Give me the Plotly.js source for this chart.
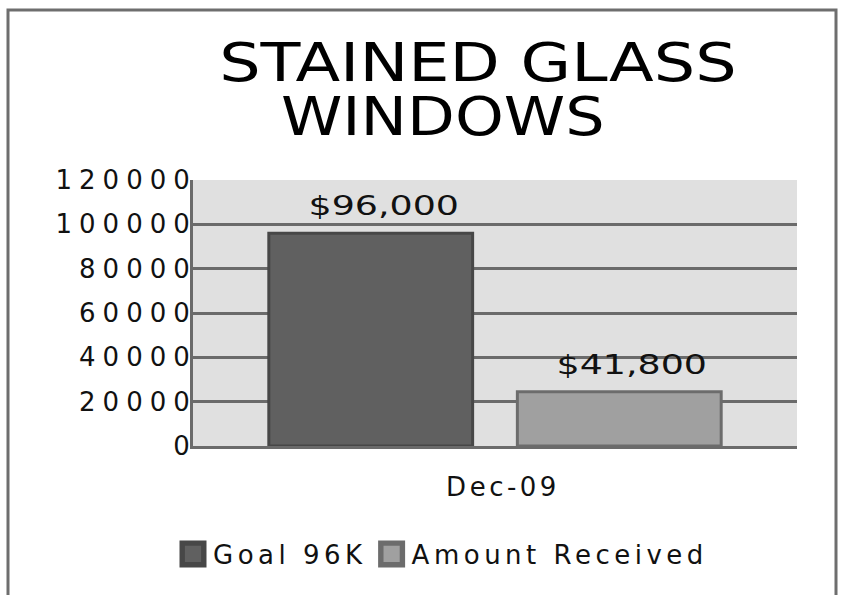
<!DOCTYPE html>
<html>
<head>
<meta charset="utf-8">
<script src="https://cdn.plot.ly/plotly-3.0.1.min.js"></script>
<style>
  html, body { margin: 0; padding: 0; background: #ffffff; }
  #chart { width: 841px; height: 595px; }
  .annotation-text { transform-box: fill-box; transform-origin: center; }
  .annotation[data-index="0"] .annotation-text,
  .annotation[data-index="1"] .annotation-text { transform: scaleX(1.4); }
  .annotation[data-index="2"] .annotation-text { transform: scaleX(1.21); }
  .annotation[data-index="3"] .annotation-text { transform: scaleX(1.15); }
  .yaxislayer-above text { letter-spacing: 7px; }
  .xaxislayer-above text { letter-spacing: 3.5px; }
  .legendtext { letter-spacing: 4.5px; }
  .legendpoints path { transform: translate(20px, 0px) scale(1.8); }
</style>
</head>
<body>
<div id="chart"></div>
<script>
// ---- data ----
const categories = ["Dec-09"];
const seriesNames = ["Goal 96K", "Amount Received"];
const goalValues = [96000];
const receivedValues = [24500];
const barLabels = ["$96,000", "$41,800"];
const yTickValues = [0, 20000, 40000, 60000, 80000, 100000, 120000];
const yTickLabels = ["0", "20000", "40000", "60000", "80000", "100000", "120000"];
const titleLines = ["STAINED GLASS", "WINDOWS"];

// ---- styling / layout constants ----
const W = 841, H = 595;
const M = { l: 193, r: 44, t: 180, b: 149 };
const plotW = W - M.l - M.r;
const plotH = H - M.t - M.b;
const bargap = 0.177;
const bargroupgap = 0.18;
const font = "DejaVu Sans, Verdana, sans-serif";
const gridColor = "#6b6b6b";

const traces = [
  {
    type: "bar", name: seriesNames[0], x: categories, y: goalValues,
    marker: { color: "#606060", line: { color: "#474747", width: 3 } },
    hoverinfo: "skip"
  },
  {
    type: "bar", name: seriesNames[1], x: categories, y: receivedValues,
    marker: { color: "#a0a0a0", line: { color: "#6c6c6c", width: 3 } },
    hoverinfo: "skip"
  }
];

// label annotations sit above each bar of the group
const slot = plotW * (1 - bargap) / 2;
const values = [goalValues[0], receivedValues[0]];
const annotations = values.map((v, i) => ({
  x: categories[0], y: v, xref: "x", yref: "y",
  text: barLabels[i], showarrow: false,
  xshift: (i - 0.5) * slot + 13, yshift: 10,
  yanchor: "bottom", xanchor: "center",
  font: { family: font, size: 26, color: "#111111" }
}));
annotations.push({
  x: (478 - M.l) / plotW, y: (446 - 62) / plotH, xref: "paper", yref: "paper",
  text: titleLines[0], showarrow: false, xanchor: "center", yanchor: "middle",
  font: { family: font, size: 54, color: "#000000" }
});
annotations.push({
  x: (442 - M.l) / plotW, y: (446 - 116) / plotH, xref: "paper", yref: "paper",
  text: titleLines[1], showarrow: false, xanchor: "center", yanchor: "middle",
  font: { family: font, size: 54, color: "#000000" }
});

const layout = {
  width: W, height: H,
  margin: M,
  paper_bgcolor: "#ffffff",
  plot_bgcolor: "#e0e0e0",
  barmode: "group",
  bargap: bargap,
  bargroupgap: bargroupgap,
  showlegend: true,
  legend: {
    orientation: "h", x: (173 - M.l) / plotW, xanchor: "left",
    y: (446 - 554) / plotH, yanchor: "middle",
    font: { family: font, size: 26, color: "#111111" },
    bgcolor: "rgba(0,0,0,0)"
  },
  xaxis: {
    type: "category",
    showgrid: false, zeroline: false,
    showline: true, linecolor: gridColor, linewidth: 3,
    ticks: "", ticklabelstandoff: 16, ticklabelshift: 8,
    tickfont: { family: font, size: 26, color: "#111111" }
  },
  yaxis: {
    range: [0, 120000],
    tickmode: "array", tickvals: yTickValues, ticktext: yTickLabels,
    showgrid: true, gridcolor: gridColor, gridwidth: 3,
    zeroline: false,
    showline: true, linecolor: gridColor, linewidth: 3,
    ticks: "", ticklabelstandoff: -12,
    tickfont: { family: font, size: 26, color: "#111111" }
  },
  annotations: annotations,
  shapes: [{
    type: "rect", xref: "paper", yref: "paper",
    x0: (8 - M.l) / plotW, x1: (836 - M.l) / plotW,
    y0: (446 - 620) / plotH, y1: (446 - 10) / plotH,
    line: { color: "#6e6e6e", width: 3 }, fillcolor: "rgba(0,0,0,0)",
    layer: "below"
  }]
};

Plotly.newPlot("chart", traces, layout, { staticPlot: true, displayModeBar: false });
</script>
</body>
</html>
